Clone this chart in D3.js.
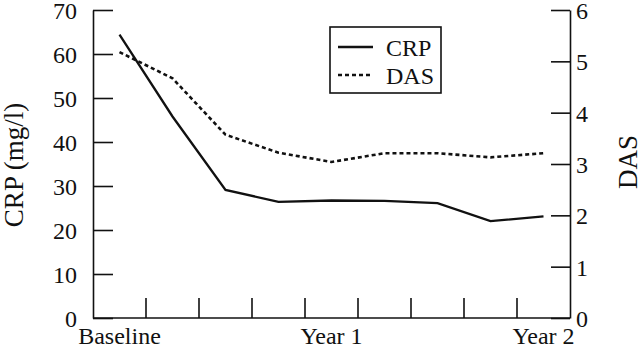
<!DOCTYPE html>
<html>
<head>
<meta charset="utf-8">
<script src="https://cdn.jsdelivr.net/npm/d3@7"></script>
<style>
  body { margin: 0; background: #fff; }
  svg { display: block; }
  text { font-family: "Liberation Serif", "DejaVu Serif", "Times New Roman", Times, serif; fill: #111; }
</style>
</head>
<body>
<svg id="chart" width="640" height="348"></svg>
<script>
// 3-monthly visits, baseline to year 2
var periods = ['m0', 'm3', 'm6', 'm9', 'm12', 'm15', 'm18', 'm21', 'm24'];
var periodLabels = ['Baseline', '', '', '', 'Year 1', '', '', '', 'Year 2'];
var crpValues = [64.4, 45.8, 29.1, 26.4, 26.7, 26.6, 26.1, 22.0, 23.1];
var dasValues = [5.18, 4.67, 3.57, 3.22, 3.04, 3.21, 3.21, 3.13, 3.21];
var crpTicks = [0, 10, 20, 30, 40, 50, 60, 70];
var dasTicks = [0, 1, 2, 3, 4, 5, 6];

(function() {
    var svg = d3.select('#chart'),
        left = 93, right = 570, top = 10, bottom = 318,
        ink = '#111';

    var x = d3.scaleBand().domain(periods).range([left, right]),
        crpY = d3.scaleLinear().domain([0, 70]).range([bottom, top]),
        dasY = d3.scaleLinear().domain([0, 6]).range([bottom, top]);

    var mid = function(d) { return x(d) + x.bandwidth() / 2; };

    //left axis (CRP), ticks pointing inward
    var leftAxis = svg.append('g')
        .attr('transform', 'translate(' + left + ',0)')
        .call(d3.axisLeft(crpY).tickValues(crpTicks).tickFormat(d3.format('d'))
            .tickSizeInner(-20).tickSizeOuter(0).tickPadding(16));

    //right axis (DAS)
    var rightAxis = svg.append('g')
        .attr('transform', 'translate(' + right + ',0)')
        .call(d3.axisRight(dasY).tickValues(dasTicks).tickFormat(d3.format('d'))
            .tickSizeInner(-19).tickSizeOuter(0).tickPadding(6));

    [leftAxis, rightAxis].forEach(function(a) {
        a.attr('font-family', null).attr('font-size', null);
        a.selectAll('path, line').attr('stroke', ink).attr('stroke-width', 1.6);
        a.selectAll('text')
            .attr('font-size', 24)
            .attr('fill', ink)
            .attr('dy', '0.36em');
    });

    //bottom axis: line plus inward ticks on the band boundaries
    var xAxis = svg.append('g');
    xAxis.append('line')
        .attr('x1', left).attr('x2', right)
        .attr('y1', bottom).attr('y2', bottom)
        .attr('stroke', ink).attr('stroke-width', 1.6);

    xAxis.selectAll('line.tick')
        .data(periods.slice(1))
        .enter()
            .append('line')
            .attr('class', 'tick')
            .attr('x1', function(d) { return x(d); })
            .attr('x2', function(d) { return x(d); })
            .attr('y1', bottom)
            .attr('y2', bottom - 20)
            .attr('stroke', ink).attr('stroke-width', 1.6);

    xAxis.selectAll('text')
        .data(periods)
        .enter()
            .append('text')
            .attr('x', function(d) { return mid(d); })
            .attr('y', 344)
            .attr('text-anchor', 'middle')
            .attr('font-size', 24)
            .text(function(d, i) { return periodLabels[i]; });

    //axis titles
    svg.append('text')
        .attr('transform', 'translate(23,165) rotate(-90)')
        .attr('text-anchor', 'middle')
        .attr('font-size', 27)
        .text('CRP (mg/l)');

    svg.append('text')
        .attr('transform', 'translate(637,162) rotate(-90)')
        .attr('text-anchor', 'middle')
        .attr('font-size', 27)
        .text('DAS');

    //series
    var crpLine = d3.line()
        .x(function(d, i) { return mid(periods[i]); })
        .y(function(d) { return crpY(d); });

    var dasLine = d3.line()
        .x(function(d, i) { return mid(periods[i]); })
        .y(function(d) { return dasY(d); });

    svg.append('path')
        .datum(dasValues)
        .attr('d', dasLine)
        .attr('fill', 'none')
        .attr('stroke', ink)
        .attr('stroke-width', 2.6)
        .attr('stroke-dasharray', '4,3');

    svg.append('path')
        .datum(crpValues)
        .attr('d', crpLine)
        .attr('fill', 'none')
        .attr('stroke', ink)
        .attr('stroke-width', 2.3);

    //legend
    var legend = svg.append('g').attr('transform', 'translate(330,27)');
    legend.append('rect')
        .attr('width', 111).attr('height', 66)
        .attr('fill', '#fff')
        .attr('stroke', ink).attr('stroke-width', 1.6);

    var entries = [{ name: 'CRP', dash: null, w: 2.3 }, { name: 'DAS', dash: '4,3', w: 2.6 }];
    var rows = legend.selectAll('g.entry')
        .data(entries)
        .enter()
            .append('g')
            .attr('class', 'entry')
            .attr('transform', function(d, i) { return 'translate(0,' + (20 + i * 28) + ')'; });

    rows.append('line')
        .attr('x1', 8).attr('x2', 43)
        .attr('stroke', ink)
        .attr('stroke-width', function(d) { return d.w; })
        .attr('stroke-dasharray', function(d) { return d.dash; });

    rows.append('text')
        .attr('x', 56)
        .attr('y', 9)
        .attr('font-size', 24)
        .text(function(d) { return d.name; });
})();
</script>
</body>
</html>
